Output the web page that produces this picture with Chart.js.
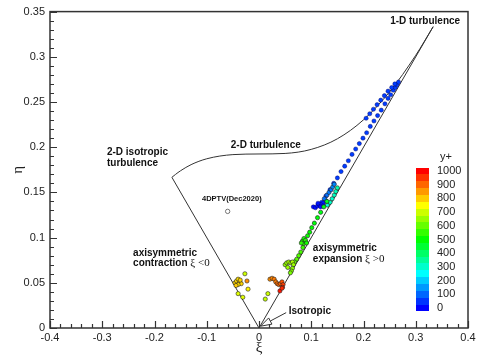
<!DOCTYPE html>
<html>
<head>
<meta charset="utf-8">
<script src="https://cdn.jsdelivr.net/npm/chart.js@4.4.1/dist/chart.umd.min.js"></script>
<style>
  html, body { margin: 0; padding: 0; background: #fff; }
  #wrap { width: 483px; height: 362px; }
</style>
</head>
<body>
<div id="wrap"><canvas id="lumley"></canvas></div>
<script>
// measured invariants (xi, eta) and the y+ of each point
const xiVals = [
    // blue branch towards 1-D limit
    0.120, 0.128, 0.136, 0.143, 0.150, 0.157, 0.164, 0.171, 0.178, 0.185, 0.192, 0.199,
    0.206, 0.213, 0.220, 0.227, 0.234, 0.241, 0.247, 0.252, 0.257, 0.261, 0.264, 0.267,
    0.205, 0.212, 0.219, 0.226, 0.233, 0.240, 0.247, 0.254, 0.260,
    // near-wall cluster
    0.104, 0.108, 0.112, 0.116, 0.120, 0.124, 0.128, 0.113, 0.118, 0.123,
    0.125, 0.130, 0.134, 0.138, 0.141, 0.144,
    0.131, 0.136, 0.140, 0.144, 0.147, 0.150,
    // green trail along the expansion line
    0.130, 0.124, 0.118, 0.112, 0.106, 0.101, 0.097, 0.093,
    0.083, 0.086, 0.089, 0.085, 0.091, 0.081,
    0.084, 0.080, 0.076, 0.072, 0.068,
    0.050, 0.053, 0.057, 0.061, 0.064, 0.066, 0.064, 0.062, 0.060, 0.055,
    // outer region
    0.021, 0.025, 0.029, 0.032, 0.035, 0.038, 0.041, 0.044, 0.046, 0.045,
    0.040, 0.044,
    0.017, 0.012,
    -0.046, -0.043, -0.040, -0.037, -0.034, -0.040, -0.044, -0.036,
    -0.027, -0.023, -0.021, -0.040, -0.031
];
const etaVals = [
    0.139, 0.146, 0.153, 0.160, 0.166, 0.173, 0.179, 0.185, 0.192, 0.198, 0.204, 0.210,
    0.216, 0.223, 0.229, 0.235, 0.241, 0.248, 0.254, 0.258, 0.263, 0.266, 0.269, 0.272,
    0.232, 0.237, 0.242, 0.247, 0.252, 0.257, 0.262, 0.266, 0.270,
    0.134, 0.133, 0.135, 0.136, 0.137, 0.139, 0.141, 0.138, 0.134, 0.135,
    0.143, 0.147, 0.150, 0.153, 0.156, 0.159,
    0.136, 0.139, 0.143, 0.147, 0.151, 0.155,
    0.140, 0.134, 0.128, 0.122, 0.116, 0.111, 0.106, 0.102,
    0.096, 0.099, 0.097, 0.093, 0.094, 0.094,
    0.089, 0.084, 0.080, 0.076, 0.073,
    0.070, 0.072, 0.073, 0.072, 0.073, 0.070, 0.066, 0.063, 0.061, 0.067,
    0.054, 0.055, 0.054, 0.051, 0.049, 0.048, 0.049, 0.051, 0.048, 0.045,
    0.041, 0.044,
    0.038, 0.032,
    0.050, 0.052, 0.054, 0.051, 0.049, 0.048, 0.047, 0.053,
    0.060, 0.052, 0.043, 0.038, 0.034
];
const yPlusVals = [
    60, 60, 60, 60, 60, 60, 60, 60, 60, 60, 60, 60,
    60, 60, 60, 60, 60, 60, 60, 60, 60, 60, 60, 60,
    60, 60, 60, 60, 60, 60, 60, 60, 60,
    15, 15, 20, 20, 25, 25, 30, 20, 15, 20,
    110, 110, 120, 120, 130, 130,
    290, 300, 300, 310, 320, 330,
    470, 480, 480, 490, 490, 500, 500, 510,
    520, 520, 530, 530, 520, 540,
    560, 570, 580, 590, 600,
    640, 650, 660, 660, 670, 650, 640, 630, 620, 650,
    860, 870, 880, 880, 890, 900, 900, 920, 940, 960,
    980, 960,
    700, 690,
    790, 790, 780, 800, 790, 780, 800, 790,
    700, 860, 760, 720, 720
];

// 4DPTV measurement
const ptvXi = [-0.060];
const ptvEta = [0.129];

// realizability boundary: two-component curve and axisymmetric edges
const curveXi  = [-0.1667, -0.160, -0.150, -0.130, -0.100, -0.050, 0.000, 0.050, 0.100, 0.150, 0.200, 0.250, 0.300, 0.3333];
const curveEta = [ 0.1667,  0.1698, 0.1740, 0.1807, 0.1872, 0.1918, 0.1925, 0.1931, 0.1976, 0.2093, 0.2303, 0.2613, 0.3017, 0.3333];
const expansionXi  = [0, 0.3333];
const expansionEta = [0, 0.3333];
const contractionXi  = [0, -0.1667];
const contractionEta = [0, 0.1667];

const xTicks = [-0.4, -0.3, -0.2, -0.1, 0, 0.1, 0.2, 0.3, 0.4];
const yTicks = [0, 0.05, 0.1, 0.15, 0.2, 0.25, 0.3, 0.35];
const cbarTicks = [0, 100, 200, 300, 400, 500, 600, 700, 800, 900, 1000];

const cmapStops = [[0, [0, 0, 255]], [250, [0, 255, 255]], [500, [0, 255, 0]], [750, [255, 255, 0]], [1000, [255, 0, 0]]];

function yPlusColor(v) {
    for (let i = 1; i < cmapStops.length; i++) {
        const [v0, c0] = cmapStops[i - 1];
        const [v1, c1] = cmapStops[i];
        if (v <= v1 || i === cmapStops.length - 1) {
            const t = Math.max(0, Math.min(1, (v - v0) / (v1 - v0)));
            const c = c0.map((a, k) => Math.round(a + (c1[k] - a) * t));
            return `rgb(${c[0]},${c[1]},${c[2]})`;
        }
    }
}

const toXY = (xs, ys) => xs.map((x, i) => ({ x: x, y: ys[i] }));

const FONT = '"Liberation Sans", Arial, sans-serif';
const SERIF = '"Liberation Serif", "Times New Roman", serif';

const decorPlugin = {
    id: 'decor',
    afterDatasetsDraw(chart) {
        const { ctx, chartArea: a, scales: { x, y } } = chart;
        ctx.save();

        // frame
        ctx.strokeStyle = '#333';
        ctx.lineWidth = 1.5;
        ctx.strokeRect(a.left, a.top, a.right - a.left, a.bottom - a.top);

        // inward ticks on bottom and left axes
        ctx.lineWidth = 1.2;
        ctx.beginPath();
        for (let i = -20; i <= 20; i++) {
            const px = Math.round(x.getPixelForValue(i * 0.02)) + 0.5;
            const len = i % 5 === 0 ? 7 : 4;
            ctx.moveTo(px, a.bottom);
            ctx.lineTo(px, a.bottom - len);
        }
        for (let i = 0; i <= 35; i++) {
            const py = Math.round(y.getPixelForValue(i * 0.01)) + 0.5;
            const len = i % 5 === 0 ? 7 : 4;
            ctx.moveTo(a.left, py);
            ctx.lineTo(a.left + len, py);
        }
        ctx.stroke();

        // region labels
        const put = (text, xi, eta, font, align) => {
            ctx.font = font;
            ctx.textAlign = align || 'left';
            ctx.textBaseline = 'middle';
            ctx.fillStyle = '#111';
            ctx.fillText(text, x.getPixelForValue(xi), y.getPixelForValue(eta));
        };
        const bold = 'bold 10px ' + FONT;
        put('1-D turbulence', 0.318, 0.339, bold, 'center');
        put('2-D turbulence', 0.013, 0.2026, bold, 'center');
        put('2-D isotropic', -0.291, 0.194, bold);
        put('turbulence', -0.291, 0.182, bold);
        put('4DPTV(Dec2020)', -0.052, 0.143, 'bold 7.5px ' + FONT, 'center');
        put('axisymmetric', -0.241, 0.083, bold);
        put('contraction', -0.241, 0.0715, bold);
        put('axisymmetric', 0.103, 0.0878, bold);
        put('expansion', 0.103, 0.0759, bold);
        put('Isotropic', 0.057, 0.018, bold);

        // xi sign conditions in serif
        ctx.font = bold;
        const unit = x.getPixelForValue(1) - x.getPixelForValue(0);
        const wc = ctx.measureText('contraction ').width;
        const we = ctx.measureText('expansion ').width;
        put('\u03BE <0', -0.241 + wc / unit, 0.0715, '11px ' + SERIF);
        put('\u03BE >0', 0.103 + we / unit, 0.0759, '11px ' + SERIF);

        // arrow to the isotropic point
        const ax0 = x.getPixelForValue(0.052), ay0 = y.getPixelForValue(0.017);
        const ax1 = x.getPixelForValue(0.003), ay1 = y.getPixelForValue(0.002);
        const ang = Math.atan2(ay1 - ay0, ax1 - ax0);
        const hl = 11, hw = 3.5;
        const bx = ax1 - hl * Math.cos(ang), by = ay1 - hl * Math.sin(ang);
        ctx.strokeStyle = '#333';
        ctx.lineWidth = 1;
        ctx.beginPath();
        ctx.moveTo(ax0, ay0);
        ctx.lineTo(bx, by);
        ctx.stroke();
        ctx.beginPath();
        ctx.moveTo(ax1, ay1);
        ctx.lineTo(bx + hw * Math.sin(ang), by - hw * Math.cos(ang));
        ctx.lineTo(bx - hw * Math.sin(ang), by + hw * Math.cos(ang));
        ctx.closePath();
        ctx.fillStyle = '#fff';
        ctx.fill();
        ctx.stroke();

        // y+ colour legend, one box per 50 units
        const cbX = 416, cbW = 13;
        const cbY = v => 308 - v * 0.137;
        for (let v = 0; v <= 1000; v += 50) {
            ctx.fillStyle = yPlusColor(v);
            ctx.fillRect(cbX, Math.round(cbY(v + 25)), cbW, Math.round(cbY(v - 25)) - Math.round(cbY(v + 25)));
        }
        ctx.font = '11px ' + FONT;
        ctx.fillStyle = '#222';
        ctx.textAlign = 'left';
        ctx.textBaseline = 'middle';
        cbarTicks.forEach(v => ctx.fillText(String(v), 437, cbY(v)));
        ctx.textAlign = 'center';
        ctx.fillText('y+', 446, 157);

        ctx.restore();
    }
};

const lineStyle = {
    showLine: true,
    pointRadius: 0,
    borderColor: '#333',
    borderWidth: 1,
    fill: false
};

new Chart(document.getElementById('lumley'), {
    type: 'scatter',
    data: {
        datasets: [
            {
                label: 'y+',
                data: toXY(xiVals, etaVals),
                pointRadius: 2.1,
                pointBackgroundColor: yPlusVals.map(yPlusColor),
                pointBorderColor: yPlusVals.map(v => v < 100 ? 'rgba(0,0,90,0.7)' : '#222'),
                pointBorderWidth: 0.6,
                order: 0
            },
            {
                label: '4DPTV(Dec2020)',
                data: toXY(ptvXi, ptvEta),
                pointRadius: 2.2,
                pointBackgroundColor: '#fff',
                pointBorderColor: '#555',
                pointBorderWidth: 0.8,
                order: 1
            },
            Object.assign({ label: '2-D', data: toXY(curveXi, curveEta), cubicInterpolationMode: 'monotone', order: 2 }, lineStyle),
            Object.assign({ label: 'expansion', data: toXY(expansionXi, expansionEta), order: 3 }, lineStyle),
            Object.assign({ label: 'contraction', data: toXY(contractionXi, contractionEta), order: 4 }, lineStyle)
        ]
    },
    options: {
        responsive: true,
        maintainAspectRatio: false,
        animation: false,
        devicePixelRatio: 1,
        layout: { padding: { left: 0, right: 15, top: 5, bottom: 0 } },
        plugins: {
            legend: { display: false },
            tooltip: { enabled: false }
        },
        scales: {
            x: {
                type: 'linear',
                min: -0.4,
                max: 0.4,
                afterBuildTicks: s => { s.ticks = xTicks.map(v => ({ value: v })); },
                afterFit: s => { s.height = 34; },
                grid: { display: false, drawTicks: false },
                border: { display: false },
                ticks: {
                    padding: 3,
                    color: '#222',
                    font: { family: FONT, size: 11 },
                    callback: v => String(Math.round(v * 10) / 10)
                },
                title: {
                    display: true,
                    text: '\u03BE',
                    color: '#222',
                    font: { family: SERIF, size: 15 },
                    padding: { top: 0, bottom: 5 }
                }
            },
            y: {
                type: 'linear',
                min: 0,
                max: 0.35,
                afterBuildTicks: s => { s.ticks = yTicks.map(v => ({ value: v })); },
                afterFit: s => { s.width = 50; },
                grid: { display: false, drawTicks: false },
                border: { display: false },
                ticks: {
                    padding: 5,
                    color: '#222',
                    font: { family: FONT, size: 11 },
                    callback: v => String(Math.round(v * 100) / 100)
                },
                title: {
                    display: true,
                    text: '\u03B7',
                    color: '#222',
                    font: { family: SERIF, size: 15 },
                    padding: { top: 9, bottom: 0 }
                }
            }
        }
    },
    plugins: [decorPlugin]
});
</script>
</body>
</html>
